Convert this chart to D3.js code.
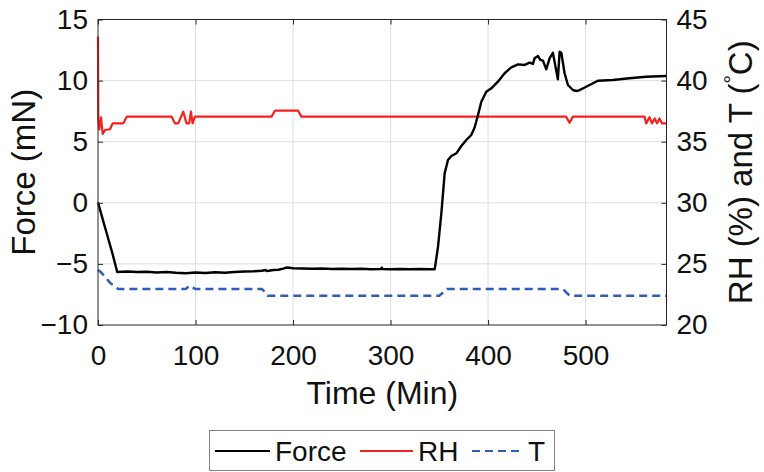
<!DOCTYPE html>
<html><head><meta charset="utf-8">
<script src="https://cdn.jsdelivr.net/npm/d3@7"></script>
<style>body{margin:0;background:#fff}svg{display:block}text{font-family:"Liberation Sans",Arial,Helvetica,sans-serif}</style>
</head><body><svg id="c" width="764" height="472"></svg>
<script>
const xTicks = [0,100,200,300,400,500];
const yLeftTicks = [-10,-5,0,5,10,15];
const yRightTicks = [20,25,30,35,40,45];

const forceTime = [0,5,10,15,19.7,
 30,40,50,60,70,80,90,100,110,120,130,140,150,160,
 168,172,173,175,180,185,190,193,197,200,
 210,220,230,240,250,260,270,280,290,291,292,
 300,310,320,330,340,345.3,
 348.7,352.1,355.5,358.9,362.4,367.5,372.6,377.7,382.8,386.3,
 389.7,393.1,398.2,403.4,410.1,417,423.9,430.7,437.5,442.6,
 446,447.7,451.2,453.6,456.3,459.7,463.1,466.5,471.6,473.4,
 475.1,478.5,481.9,487,490.4,493.2,500.7,512.6,527.9,545,
 562.1,582.7];
const forceVal = [0.04,-1.4,-2.8,-4.2,-5.66,
 -5.62,-5.66,-5.64,-5.7,-5.66,-5.72,-5.76,-5.7,-5.74,-5.68,-5.72,-5.66,-5.62,-5.6,
 -5.56,-5.5,-5.58,-5.56,-5.5,-5.48,-5.38,-5.3,-5.32,-5.36,
 -5.38,-5.4,-5.38,-5.42,-5.4,-5.42,-5.4,-5.44,-5.42,-5.3,-5.42,
 -5.44,-5.42,-5.44,-5.42,-5.44,-5.44,
 -3.59,-0.86,2.41,3.5,3.83,4.05,4.65,5.14,5.55,6.18,
 7.19,8.27,9.09,9.37,9.91,10.6,11.09,11.33,11.28,11.47,
 11.36,11.82,12.01,11.69,11.63,10.92,11.82,12.28,10.1,12.36,
 12.28,10.6,9.64,9.23,9.15,9.2,9.5,9.99,10.05,10.19,
 10.32,10.38];

const rhTime = [0,0.3,1.3,3.1,4.8,7.2,12.3,15,26,29.5,
 75.5,78.9,82.3,87.4,90.8,93.5,95.3,97,99.4,
 178,181.4,205.2,208.6,
 480,483.6,487,
 560.5,562.2,565.6,568.2,570.9,573.3,575.8,578.5,582.7];
const rhVal = [43.6,36.9,36.0,37.0,35.63,35.96,36.02,36.5,36.5,37.05,
 37.05,36.5,36.5,37.46,36.5,36.5,37.46,36.5,37.05,
 37.05,37.54,37.54,37.05,
 37.05,36.55,37.05,
 37.05,36.5,37.0,36.5,36.9,36.5,36.9,36.5,36.5];

const tTime = [0,2.4,7.2,12.3,17.4,20.8,90,93,95,97,100,168,170,172,174,350,353,356,358,476,478,481,484,582.7];
const tVal  = [24.5,24.36,23.95,23.46,23.13,22.95,22.95,23.15,23.2,23.05,22.95,22.95,22.8,22.55,22.4,22.4,22.6,22.85,22.95,22.95,22.85,22.6,22.4,22.4];

const seriesNames = ["Force","RH","T"];

const svg = d3.select("#c");
const L=98, R=666.5, T=19.5, B=325;
const x = d3.scaleLinear().domain([0,583]).range([L,R]);
const yL = d3.scaleLinear().domain([-10,15]).range([B,T]);
const yR = d3.scaleLinear().domain([20,45]).range([B,T]);
const axisCol = "#262626";

// grid
const g = svg.append("g");
g.selectAll(".gx").data(xTicks.slice(1)).join("line")
  .attr("x1",d=>x(d)).attr("x2",d=>x(d)).attr("y1",T).attr("y2",B)
  .attr("stroke","#dfdfdf").attr("stroke-width",1);
g.selectAll(".gy").data(yLeftTicks.slice(1,-1)).join("line")
  .attr("y1",d=>yL(d)).attr("y2",d=>yL(d)).attr("x1",L).attr("x2",R)
  .attr("stroke","#dfdfdf").attr("stroke-width",1);

// lines
const lineL = d3.line().x(d=>x(d[0])).y(d=>yL(d[1]));
const lineR = d3.line().x(d=>x(d[0])).y(d=>yR(d[1]));
svg.append("path").datum(d3.zip(tTime,tVal)).attr("d",lineR)
  .attr("fill","none").attr("stroke","#2e5cb8").attr("stroke-width",2.5).attr("stroke-dasharray","8,5");
svg.append("path").datum(d3.zip(rhTime,rhVal)).attr("d",lineR)
  .attr("fill","none").attr("stroke","#f52020").attr("stroke-width",2.2).attr("stroke-linejoin","round");
svg.append("path").datum(d3.zip(forceTime,forceVal)).attr("d",lineL)
  .attr("fill","none").attr("stroke","#000").attr("stroke-width",2.4).attr("stroke-linejoin","round");

// axes
function style(sel){
  sel.select(".domain").remove();
  sel.selectAll("line").attr("stroke",axisCol);
  sel.selectAll("text").attr("fill","#111").attr("font-size",28);
}
svg.append("g").attr("transform",`translate(0,${B})`)
  .call(d3.axisBottom(x).tickValues(xTicks).tickSize(-5).tickPadding(20)).call(style);
svg.append("g").attr("transform",`translate(0,${T})`)
  .call(d3.axisTop(x).tickValues(xTicks).tickSize(-5).tickFormat("")).call(style);
svg.append("g").attr("transform",`translate(${L},0)`)
  .call(d3.axisLeft(yL).tickValues(yLeftTicks).tickSize(-5).tickPadding(10)).call(style);
svg.append("g").attr("transform",`translate(${R},0)`)
  .call(d3.axisRight(yR).tickValues(yRightTicks).tickSize(-5).tickPadding(10)).call(style);
svg.append("rect").attr("x",L).attr("y",T).attr("width",R-L).attr("height",B-T)
  .attr("fill","none").attr("stroke",axisCol).attr("stroke-width",1);

// axis labels
svg.append("text").attr("x",(L+R)/2).attr("y",404).attr("text-anchor","middle")
  .attr("font-size",32).attr("fill","#111").text("Time (Min)");
svg.append("text").attr("transform",`translate(35,${(T+B)/2}) rotate(-90)`).attr("text-anchor","middle")
  .attr("font-size",33).attr("fill","#111").text("Force (mN)");
const rl = svg.append("text").attr("transform",`translate(752,${(T+B)/2}) rotate(-90)`).attr("text-anchor","middle")
  .attr("font-size",33).attr("fill","#111");
rl.append("tspan").text("RH (%) and T (");
rl.append("tspan").attr("font-size",21).attr("dy",-13).text("°");
rl.append("tspan").attr("dy",13).text("C)");

// legend
const lg = svg.append("g");
lg.append("rect").attr("x",209.5).attr("y",430.5).attr("width",345).attr("height",40)
  .attr("fill","#fff").attr("stroke","#808080").attr("stroke-width",1);
const legItems = [
  {name:seriesNames[0], x1:215, x2:270, tx:275, col:"#000", dash:null},
  {name:seriesNames[1], x1:360, x2:413, tx:418, col:"#f52020", dash:null},
  {name:seriesNames[2], x1:472, x2:524, tx:528, col:"#2e5cb8", dash:"8,5"}
];
legItems.forEach(it=>{
  lg.append("line").attr("x1",it.x1).attr("x2",it.x2).attr("y1",451).attr("y2",451)
    .attr("stroke",it.col).attr("stroke-width",2.2).attr("stroke-dasharray",it.dash);
  lg.append("text").attr("x",it.tx).attr("y",461).attr("font-size",28).attr("fill","#111").text(it.name);
});
</script></body></html>
